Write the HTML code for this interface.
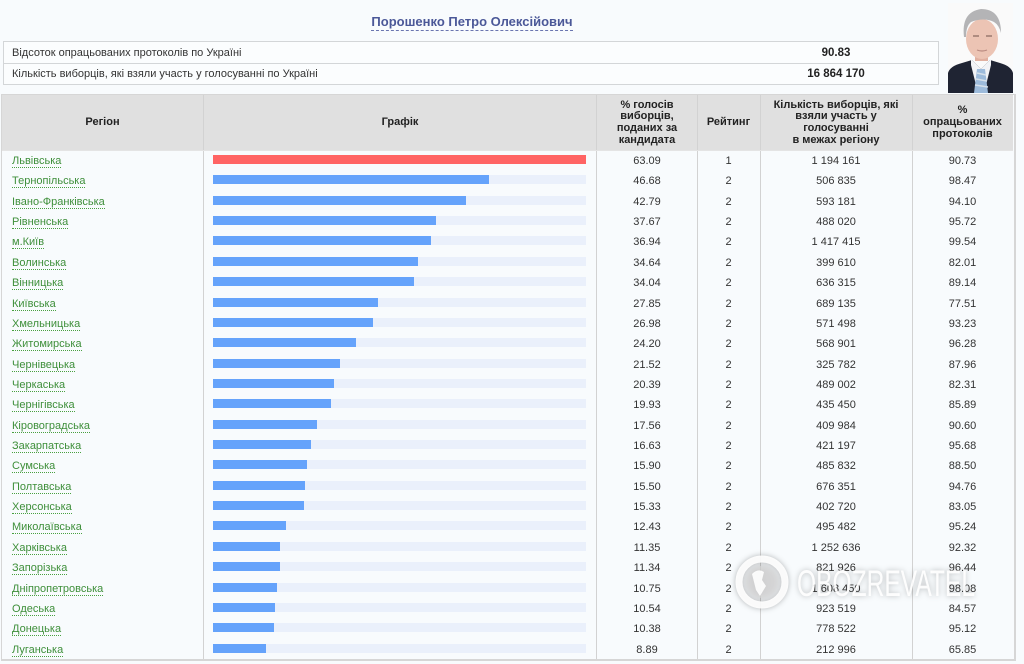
<!DOCTYPE html>
<html><head><meta charset="utf-8">
<style>
html,body{margin:0;padding:0;}
body{width:1024px;height:664px;background:#f8fbfd;position:relative;overflow:hidden;font-family:"Liberation Sans","DejaVu Sans",sans-serif;font-size:11px;color:#333;}
.abs{position:absolute;}
.title{left:0;width:944px;top:14px;text-align:center;font-weight:bold;font-size:13px;color:#4b5898;}
.title span{border-bottom:1px dashed #6a75b0;padding-bottom:1px;}
.info{left:3px;top:41px;width:934px;height:42px;border:1px solid #d3d6d8;background:#fbfdfe;}
.info .line{position:absolute;left:0;right:0;top:21px;height:1px;background:#d3d6d8;}
.info .lab{position:absolute;left:8px;}
.info .val{position:absolute;left:730px;width:204px;text-align:center;font-weight:bold;font-size:11.5px;color:#222;}
.tbl{left:1px;top:94px;width:1012px;height:564px;border:1px solid #d6d6d6;border-width:1px 2px 2px 1px;}
.head{left:2px;top:95px;width:1011px;height:55px;background:#e0e0e0;}
.vl{position:absolute;width:1px;background:#d2d2d2;top:95px;height:564px;}
.hc{position:absolute;top:95px;height:56px;display:flex;align-items:center;justify-content:center;text-align:center;font-weight:bold;font-size:11px;line-height:11.7px;color:#222;}
.row{position:absolute;left:0;width:1013px;height:20px;}
.rg{position:absolute;left:12px;top:5px;color:#3e8f3a;border-bottom:1px dotted #49a040;line-height:12px;}
.tr{position:absolute;left:213px;top:5px;width:373px;height:9px;background:#eaf0fb;}
.br{position:absolute;left:213px;top:5px;height:9px;background:#65a3fb;}
.br.red{background:#ff6464;}
.c{position:absolute;top:5px;text-align:center;line-height:12px;color:#333;}
.c1{left:597px;width:100px;}
.c2{left:697px;width:63px;}
.c3{left:760px;width:152px;}
.c4{left:912px;width:101px;}
</style></head><body>

<div class="abs title"><span>Порошенко Петро Олексійович</span></div>

<div class="abs info">
  <div class="line"></div>
  <div class="lab" style="top:5px;">Відсоток опрацьованих протоколів по Україні</div>
  <div class="val" style="top:5px;">90.83</div>
  <div class="lab" style="top:26px;">Кількість виборців, які взяли участь у голосуванні по Україні</div>
  <div class="val" style="top:26px;">16 864 170</div>
</div>

<!-- photo -->
<svg class="abs" style="left:948px;top:3px;" width="65" height="90" viewBox="0 0 65 90">
  <rect width="65" height="90" fill="#fafafa"/>
  <path d="M0 90 L0 70 Q2 63 14 60 L24 57 L33 66 L42 57 L52 60 Q63 63 65 70 L65 90 Z" fill="#1f2433"/>
  <path d="M23 56 L33 66 L43 56 L43 62 L36 90 L30 90 L23 62 Z" fill="#f2f3f6"/>
  <path d="M29 66 L37 66 L40 90 L26 90 Z" fill="#9dbbdb"/>
  <path d="M29 70 L38 72 M28 76 L39 78 M27 82 L40 84" stroke="#d6e0ea" stroke-width="1.5"/>
  <rect x="27" y="46" width="13" height="12" fill="#e0b0a0"/>
  <ellipse cx="34" cy="36" rx="16" ry="20" fill="#ecc4b4"/>
  <path d="M16 34 Q13 9 33 6 Q53 6 53 30 Q51 22 46 19 Q36 14 23 19 Q18 23 18 34 Z" fill="#b4b4b6"/>
  <path d="M25 33 h6 M38 33 h6" stroke="#8a6a60" stroke-width="1.2"/>
  <path d="M29 47 Q34 49 39 47" stroke="#b98a80" stroke-width="1.2" fill="none"/>
</svg>

<div class="abs tbl"></div>
<div class="abs head"></div>
<div class="vl" style="left:203px;"></div>
<div class="vl" style="left:596px;"></div>
<div class="vl" style="left:697px;"></div>
<div class="vl" style="left:760px;"></div>
<div class="vl" style="left:912px;"></div>
<div class="abs" style="left:2px;top:150px;width:1011px;height:1px;background:#e4e4e4;"></div>

<div class="hc" style="left:2px;width:201px;">Регіон</div>
<div class="hc" style="left:204px;width:392px;">Графік</div>
<div class="hc" style="left:597px;width:100px;">% голосів<br>виборців,<br>поданих за<br>кандидата</div>
<div class="hc" style="left:697px;width:63px;">Рейтинг</div>
<div class="hc" style="left:760px;width:152px;">Кількість виборців, які<br>взяли участь у<br>голосуванні<br>в межах регіону</div>
<div class="hc" style="left:912px;width:101px;">%<br>опрацьованих<br>протоколів</div>

<div class="row" style="top:150px;"><span class="rg">Львівська</span><div class="tr"></div><div class="br red" style="width:373px;"></div><div class="c c1">63.09</div><div class="c c2">1</div><div class="c c3">1 194 161</div><div class="c c4">90.73</div></div>
<div class="row" style="top:170.36px;"><span class="rg">Тернопільська</span><div class="tr"></div><div class="br" style="width:276px;"></div><div class="c c1">46.68</div><div class="c c2">2</div><div class="c c3">506 835</div><div class="c c4">98.47</div></div>
<div class="row" style="top:190.72px;"><span class="rg">Івано-Франківська</span><div class="tr"></div><div class="br" style="width:253px;"></div><div class="c c1">42.79</div><div class="c c2">2</div><div class="c c3">593 181</div><div class="c c4">94.10</div></div>
<div class="row" style="top:211.08px;"><span class="rg">Рівненська</span><div class="tr"></div><div class="br" style="width:223px;"></div><div class="c c1">37.67</div><div class="c c2">2</div><div class="c c3">488 020</div><div class="c c4">95.72</div></div>
<div class="row" style="top:231.44px;"><span class="rg">м.Київ</span><div class="tr"></div><div class="br" style="width:218px;"></div><div class="c c1">36.94</div><div class="c c2">2</div><div class="c c3">1 417 415</div><div class="c c4">99.54</div></div>
<div class="row" style="top:251.8px;"><span class="rg">Волинська</span><div class="tr"></div><div class="br" style="width:205px;"></div><div class="c c1">34.64</div><div class="c c2">2</div><div class="c c3">399 610</div><div class="c c4">82.01</div></div>
<div class="row" style="top:272.16px;"><span class="rg">Вінницька</span><div class="tr"></div><div class="br" style="width:201px;"></div><div class="c c1">34.04</div><div class="c c2">2</div><div class="c c3">636 315</div><div class="c c4">89.14</div></div>
<div class="row" style="top:292.52px;"><span class="rg">Київська</span><div class="tr"></div><div class="br" style="width:165px;"></div><div class="c c1">27.85</div><div class="c c2">2</div><div class="c c3">689 135</div><div class="c c4">77.51</div></div>
<div class="row" style="top:312.88px;"><span class="rg">Хмельницька</span><div class="tr"></div><div class="br" style="width:160px;"></div><div class="c c1">26.98</div><div class="c c2">2</div><div class="c c3">571 498</div><div class="c c4">93.23</div></div>
<div class="row" style="top:333.24px;"><span class="rg">Житомирська</span><div class="tr"></div><div class="br" style="width:143px;"></div><div class="c c1">24.20</div><div class="c c2">2</div><div class="c c3">568 901</div><div class="c c4">96.28</div></div>
<div class="row" style="top:353.6px;"><span class="rg">Чернівецька</span><div class="tr"></div><div class="br" style="width:127px;"></div><div class="c c1">21.52</div><div class="c c2">2</div><div class="c c3">325 782</div><div class="c c4">87.96</div></div>
<div class="row" style="top:373.96px;"><span class="rg">Черкаська</span><div class="tr"></div><div class="br" style="width:121px;"></div><div class="c c1">20.39</div><div class="c c2">2</div><div class="c c3">489 002</div><div class="c c4">82.31</div></div>
<div class="row" style="top:394.32px;"><span class="rg">Чернігівська</span><div class="tr"></div><div class="br" style="width:118px;"></div><div class="c c1">19.93</div><div class="c c2">2</div><div class="c c3">435 450</div><div class="c c4">85.89</div></div>
<div class="row" style="top:414.68px;"><span class="rg">Кіровоградська</span><div class="tr"></div><div class="br" style="width:104px;"></div><div class="c c1">17.56</div><div class="c c2">2</div><div class="c c3">409 984</div><div class="c c4">90.60</div></div>
<div class="row" style="top:435.04px;"><span class="rg">Закарпатська</span><div class="tr"></div><div class="br" style="width:98px;"></div><div class="c c1">16.63</div><div class="c c2">2</div><div class="c c3">421 197</div><div class="c c4">95.68</div></div>
<div class="row" style="top:455.4px;"><span class="rg">Сумська</span><div class="tr"></div><div class="br" style="width:94px;"></div><div class="c c1">15.90</div><div class="c c2">2</div><div class="c c3">485 832</div><div class="c c4">88.50</div></div>
<div class="row" style="top:475.76px;"><span class="rg">Полтавська</span><div class="tr"></div><div class="br" style="width:92px;"></div><div class="c c1">15.50</div><div class="c c2">2</div><div class="c c3">676 351</div><div class="c c4">94.76</div></div>
<div class="row" style="top:496.12px;"><span class="rg">Херсонська</span><div class="tr"></div><div class="br" style="width:91px;"></div><div class="c c1">15.33</div><div class="c c2">2</div><div class="c c3">402 720</div><div class="c c4">83.05</div></div>
<div class="row" style="top:516.48px;"><span class="rg">Миколаївська</span><div class="tr"></div><div class="br" style="width:73px;"></div><div class="c c1">12.43</div><div class="c c2">2</div><div class="c c3">495 482</div><div class="c c4">95.24</div></div>
<div class="row" style="top:536.84px;"><span class="rg">Харківська</span><div class="tr"></div><div class="br" style="width:67px;"></div><div class="c c1">11.35</div><div class="c c2">2</div><div class="c c3">1 252 636</div><div class="c c4">92.32</div></div>
<div class="row" style="top:557.2px;"><span class="rg">Запорізька</span><div class="tr"></div><div class="br" style="width:67px;"></div><div class="c c1">11.34</div><div class="c c2">2</div><div class="c c3">821 926</div><div class="c c4">96.44</div></div>
<div class="row" style="top:577.56px;"><span class="rg">Дніпропетровська</span><div class="tr"></div><div class="br" style="width:64px;"></div><div class="c c1">10.75</div><div class="c c2">2</div><div class="c c3">1 608 450</div><div class="c c4">98.08</div></div>
<div class="row" style="top:597.92px;"><span class="rg">Одеська</span><div class="tr"></div><div class="br" style="width:62px;"></div><div class="c c1">10.54</div><div class="c c2">2</div><div class="c c3">923 519</div><div class="c c4">84.57</div></div>
<div class="row" style="top:618.28px;"><span class="rg">Донецька</span><div class="tr"></div><div class="br" style="width:61px;"></div><div class="c c1">10.38</div><div class="c c2">2</div><div class="c c3">778 522</div><div class="c c4">95.12</div></div>
<div class="row" style="top:638.64px;"><span class="rg">Луганська</span><div class="tr"></div><div class="br" style="width:53px;"></div><div class="c c1">8.89</div><div class="c c2">2</div><div class="c c3">212 996</div><div class="c c4">65.85</div></div>

<!-- watermark -->
<svg class="abs" style="left:730px;top:550px;filter:drop-shadow(0 0 3px rgba(0,0,0,0.3));" width="270" height="66" viewBox="0 0 270 66">
  <circle cx="32" cy="32" r="23" fill="none" stroke="#ffffff" stroke-opacity="0.9" stroke-width="7"/>
  <circle cx="32" cy="32" r="16" fill="#d8d8d8" fill-opacity="0.7"/>
  <path d="M22 24 Q28 18 34 22 L32 30 L36 36 L30 46 L26 40 L24 32 Z" fill="#ffffff" fill-opacity="0.9"/>
  <text x="67" y="46" font-family="Liberation Sans, sans-serif" font-size="37" textLength="178" lengthAdjust="spacingAndGlyphs" fill="#ffffff" fill-opacity="0.9">OBOZREVATEL</text>
</svg>

</body></html>
